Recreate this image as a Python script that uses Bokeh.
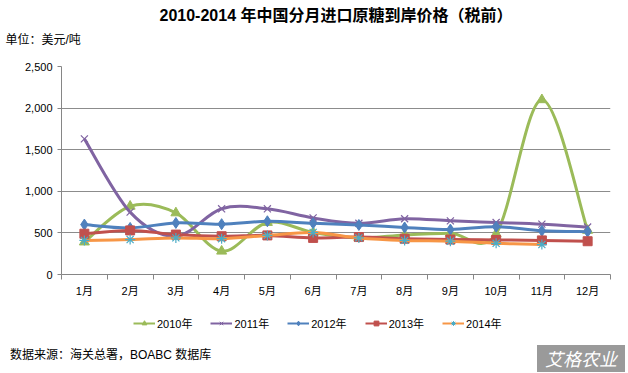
from bokeh.plotting import figure
from bokeh.layouts import column
from bokeh.models import (Range1d, FixedTicker, NumeralTickFormatter, Legend, LegendItem, Title, Div)
from bokeh.embed import file_html
from bokeh.resources import INLINE

months = ["1月", "2月", "3月", "4月", "5月", "6月", "7月", "8月", "9月", "10月", "11月", "12月"]
y2010 = [390, 820, 740, 280, 625, 505, 440, 475, 495, 490, 2100, 530]
y2011 = [1630, 750, 460, 790, 790, 680, 615, 670, 645, 625, 605, 570]
y2012 = [600, 560, 620, 605, 640, 615, 595, 565, 540, 575, 525, 515]
y2013 = [490, 530, 480, 460, 470, 440, 450, 430, 420, 415, 410, 400]
y2014 = [410, 420, 440, 430, 470, 505, 440, 410, 400, 375, 360]
series_names = ["2010年", "2011年", "2012年", "2013年", "2014年"]
yticks = [0, 500, 1000, 1500, 2000, 2500]

CJK = "'Liberation Sans', 'Noto Sans CJK SC', sans-serif"
NAN = float("nan")
W = 628


def blank(h, **kw):
    f = figure(width=W, height=h, output_backend="svg", toolbar_location=None,
               x_range=Range1d(0, 1), y_range=Range1d(0, 1),
               x_axis_type=None, y_axis_type=None, **kw)
    f.outline_line_color = None
    f.grid.visible = False
    return f


# ---- top: title + unit (Titles live in side panels, so they are not clipped)
top = blank(58, min_border_top=50, min_border_bottom=0, min_border_left=0, min_border_right=0)
top.title.text = "2010-2014 年中国分月进口原糖到岸价格（税前）"
top.title.align = "center"
top.title.offset = -21
top.title.text_font = CJK
top.title.text_font_size = "16px"
top.title.text_font_style = "bold"
top.title.text_color = "#000000"
top.title.standoff = 5
top.add_layout(Title(text="单位：美元/吨", align="left", offset=-56, text_font=CJK, text_font_size="12px",
                     text_font_style="normal", text_color="#000000", standoff=8), "above")

# ---- main chart
p = figure(width=W, height=248, output_backend="svg", toolbar_location=None,
           x_range=Range1d(0, 12), y_range=Range1d(0, 2500),
           min_border_left=61, min_border_right=18, min_border_top=8, min_border_bottom=32)
p.outline_line_color = None

xa = p.xaxis[0]
xa.ticker = FixedTicker(ticks=[i + 0.5 for i in range(12)], minor_ticks=list(range(13)))
xa.major_label_overrides = {i + 0.5: m for i, m in enumerate(months)}
xa.major_tick_line_color = None
xa.major_tick_out = 0
xa.major_tick_in = 0
xa.minor_tick_out = 5
xa.minor_tick_in = 0
xa.minor_tick_line_color = "#868686"
xa.axis_line_color = "#868686"
xa.major_label_standoff = 5
xa.major_label_text_font = CJK
xa.major_label_text_font_size = "11px"
xa.major_label_text_color = "#000000"

ya = p.yaxis[0]
ya.ticker = FixedTicker(ticks=yticks)
ya.formatter = NumeralTickFormatter(format="0,0")
ya.minor_tick_line_color = None
ya.major_tick_out = 4
ya.major_tick_in = 0
ya.major_tick_line_color = "#868686"
ya.axis_line_color = "#868686"
ya.major_label_standoff = 5
ya.major_label_text_font = CJK
ya.major_label_text_font_size = "11px"
ya.major_label_text_color = "#000000"

p.xgrid.grid_line_color = None
p.ygrid.ticker = FixedTicker(ticks=yticks)
p.ygrid.grid_line_color = "#8c8c8c"
p.ygrid.grid_line_width = 1


def smooth(vals, color, width=3):
    n = len(vals)
    xs = [i + 0.5 for i in range(n)]
    x0, y0, x1, y1, cx0, cy0, cx1, cy1 = [], [], [], [], [], [], [], []
    for i in range(n - 1):
        im = max(i - 1, 0)
        ip = min(i + 2, n - 1)
        x0.append(xs[i]); y0.append(vals[i])
        x1.append(xs[i + 1]); y1.append(vals[i + 1])
        cx0.append(xs[i] + (xs[i + 1] - xs[im]) / 6)
        cy0.append(vals[i] + (vals[i + 1] - vals[im]) / 6)
        cx1.append(xs[i + 1] - (xs[ip] - xs[i]) / 6)
        cy1.append(vals[i + 1] - (vals[ip] - vals[i]) / 6)
    p.bezier(x0=x0, y0=y0, x1=x1, y1=y1, cx0=cx0, cy0=cy0, cx1=cx1, cy1=cy1,
             line_color=color, line_width=width)
    return xs


styles = [
    (y2010, "#9BBB59", "triangle", "#9BBB59", 10),
    (y2011, "#8064A2", "x", "#8064A2", 10),
    (y2012, "#4F81BD", "diamond", "#4F81BD", 11),
    (y2013, "#C0504D", "square", "#C0504D", 9),
    (y2014, "#F79646", "asterisk", "#4BACC6", 10),
]

for vals, lc, mk, mc, ms in styles:
    xs = smooth(vals, lc)
    if mk in ("x", "asterisk"):
        p.scatter(xs, vals, marker=mk, size=ms, line_color=mc, line_width=1.2, fill_color=None)
    else:
        p.scatter(xs, vals, marker=mk, size=ms, line_color=mc, fill_color=mc)

# ---- legend strip
leg = blank(34, min_border=0)
items = []
for (vals, lc, mk, mc, ms), name in zip(styles, series_names):
    lr = leg.line(x=[NAN], y=[NAN], line_color=lc, line_width=2)
    if mk in ("x", "asterisk"):
        sr = leg.scatter(x=[NAN], y=[NAN], marker=mk, size=7, line_color=mc, line_width=1, fill_color=None)
    else:
        sr = leg.scatter(x=[NAN], y=[NAN], marker=mk, size=6, line_color=mc, fill_color=mc)
    items.append(LegendItem(label=name, renderers=[lr, sr]))

legend = Legend(items=items, orientation="horizontal", location=(72, 9),
                label_text_font=CJK, label_text_font_size="11px", label_text_color="#000000",
                glyph_width=22, glyph_height=12, label_standoff=2, spacing=18,
                padding=2, margin=0, border_line_color=None, background_fill_alpha=0)
leg.add_layout(legend, "center")

# ---- source line and watermark
foot = Div(width=W, height=33, margin=0, text=(
    '<div style="position:relative;width:628px;height:33px;">'
    '<span style="position:absolute;left:10px;top:7px;font-family:\'Liberation Sans\',\'Noto Sans CJK SC\',sans-serif;'
    'font-size:12px;color:#000;white-space:nowrap;">数据来源：海关总署，BOABC 数据库</span>'
    '<span style="position:absolute;left:537px;top:5px;width:88px;height:27px;line-height:27px;'
    'background:#9a9a9a;color:#ffffff;text-align:center;font-family:\'Noto Sans CJK SC\',sans-serif;'
    'font-size:18px;font-style:italic;white-space:nowrap;">艾格农业</span>'
    '</div>'))

layout = column(top, p, leg, foot, spacing=0)
open("out.html", "w").write(file_html(layout, INLINE))
